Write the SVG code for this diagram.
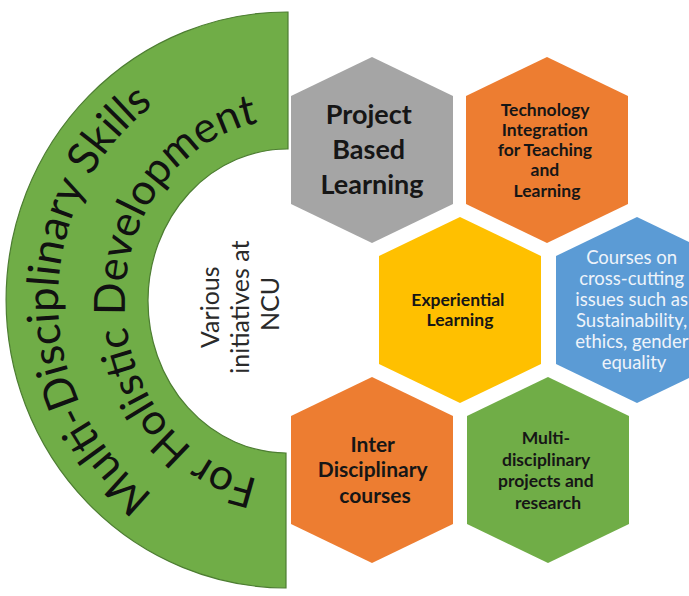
<svg xmlns="http://www.w3.org/2000/svg" xmlns:xlink="http://www.w3.org/1999/xlink" width="689" height="596" viewBox="0 0 689 596">
  <style>
    .hexlabel { font-family: Lato, "Open Sans", "Liberation Sans", sans-serif; font-weight: 700; fill: #161616; text-anchor: middle; }
    .bluelabel { font-family: Lato, "Open Sans", "Liberation Sans", sans-serif; font-weight: 400; fill: #eef3fa; text-anchor: middle; }
    .arclabel { font-family: Lato, "Open Sans", "Liberation Sans", sans-serif; font-weight: 400; fill: #111; text-anchor: middle; }
    .center { font-family: Lato, "Open Sans", "Liberation Sans", sans-serif; font-size: 25px; fill: #2a2a2a; text-anchor: middle; }
    .gray { fill: #a5a5a5; }
    .orange { fill: #ed7d31; }
    .yellow { fill: #ffc000; }
    .blue { fill: #5b9bd5; }
    .green { fill: #70ad47; }
  </style>
  <defs>
    <!-- pointy-top hexagon centred on the origin -->
    <polygon id="hex" points="0,-93 81,-54 81,54 0,93 -81,54 -81,-54"/>
    <!-- baselines for the curved titles, running bottom to top through the left side -->
    <path id="outerBase" d="M 287,540 A 229 240 0 0 1 287,60"/>
    <path id="innerBase" d="M 287,482 A 162 181 0 0 1 287,120"/>
  </defs>

  <rect width="689" height="596" fill="#ffffff"/>

  <!-- half ring with the title -->
  <g id="title-arc">
    <path class="green" d="M 288,12 A 281 288 0 0 0 286,588 L 286,453 A 139 152 0 0 1 288,149 Z" stroke="#4d7d32" stroke-width="1.2"/>
    <text class="arclabel" font-size="44"><textPath href="#outerBase" xlink:href="#outerBase" startOffset="50%">Multi-Disciplinary Skills</textPath></text>
    <text class="arclabel" font-size="43"><textPath href="#innerBase" xlink:href="#innerBase" startOffset="50%">For Holistic Development</textPath></text>
  </g>

  <!-- centre caption -->
  <g id="caption" transform="translate(249,304) rotate(-90)">
    <text class="center">
      <tspan x="0" y="-30">Various</tspan>
      <tspan x="0" y="0">initiatives at</tspan>
      <tspan x="0" y="30">NCU</tspan>
    </text>
  </g>

  <g id="connectors"/>

  <g id="project-based-learning">
    <use href="#hex" xlink:href="#hex" class="gray" x="372" y="150"/>
    <text class="hexlabel" font-size="27">
      <tspan x="372" y="124">Project</tspan>
      <tspan x="372" y="159">Based</tspan>
      <tspan x="372" y="194">Learning</tspan>
    </text>
  </g>

  <g id="technology-integration">
    <use href="#hex" xlink:href="#hex" class="orange" x="547" y="150"/>
    <text class="hexlabel" font-size="17.5">
      <tspan x="547" y="116">Technology</tspan>
      <tspan x="547" y="136">Integration</tspan>
      <tspan x="547" y="156">for Teaching</tspan>
      <tspan x="547" y="176">and</tspan>
      <tspan x="547" y="197">Learning</tspan>
    </text>
  </g>

  <g id="experiential-learning">
    <use href="#hex" xlink:href="#hex" class="yellow" x="460" y="310"/>
    <text class="hexlabel" font-size="17.5">
      <tspan x="460" y="306">Experiential</tspan>
      <tspan x="460" y="326">Learning</tspan>
    </text>
  </g>

  <g id="cross-cutting-courses">
    <use href="#hex" xlink:href="#hex" class="blue" x="637" y="310"/>
    <text class="bluelabel" font-size="18.5">
      <tspan x="634" y="264">Courses on</tspan>
      <tspan x="634" y="285">cross-cutting</tspan>
      <tspan x="634" y="306">issues such as</tspan>
      <tspan x="634" y="327">Sustainability,</tspan>
      <tspan x="634" y="348">ethics, gender</tspan>
      <tspan x="634" y="369">equality</tspan>
    </text>
  </g>

  <g id="inter-disciplinary-courses">
    <use href="#hex" xlink:href="#hex" class="orange" x="372" y="470"/>
    <text class="hexlabel" font-size="21">
      <tspan x="375" y="452">Inter</tspan>
      <tspan x="375" y="477">Disciplinary</tspan>
      <tspan x="375" y="503">courses</tspan>
    </text>
  </g>

  <g id="multidisciplinary-projects">
    <use href="#hex" xlink:href="#hex" class="green" x="548" y="470"/>
    <text class="hexlabel" font-size="17.5">
      <tspan x="548" y="444">Multi-</tspan>
      <tspan x="548" y="465.5">disciplinary</tspan>
      <tspan x="548" y="487">projects and</tspan>
      <tspan x="548" y="508.5">research</tspan>
    </text>
  </g>
</svg>
